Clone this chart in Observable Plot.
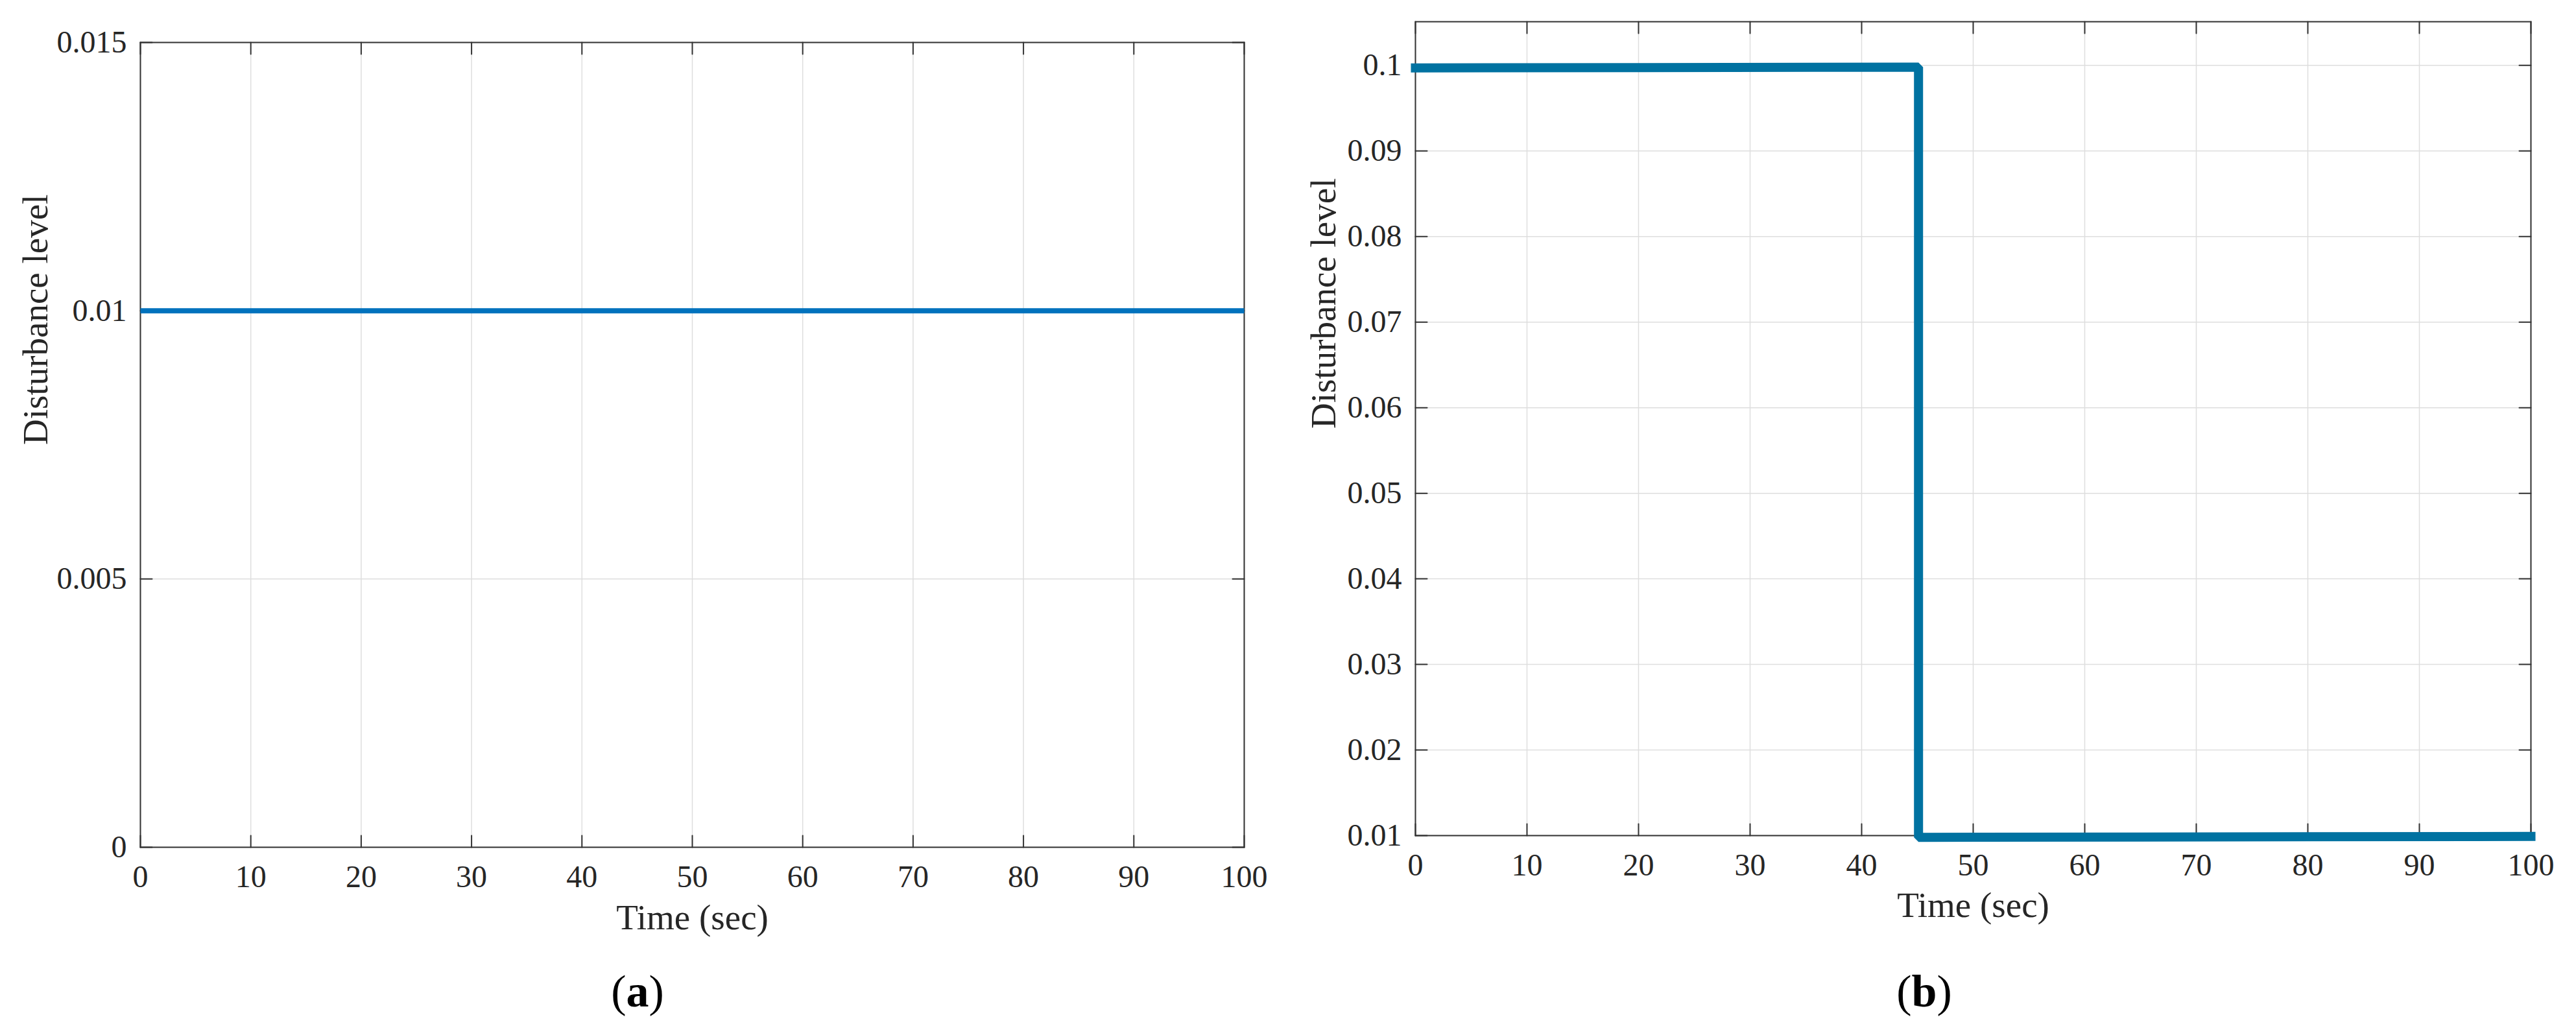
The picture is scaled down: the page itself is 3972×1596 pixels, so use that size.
<!DOCTYPE html>
<html><head><meta charset="utf-8">
<script src="https://cdn.jsdelivr.net/npm/d3@7"></script>
<script src="https://cdn.jsdelivr.net/npm/@observablehq/plot@0.6"></script>
<style>
body{margin:0;background:#fff;}
#fig{position:relative;width:3972px;height:1596px;overflow:hidden;background:#fff;font-family:"Liberation Serif","Times New Roman",serif;}
.panel{position:absolute;top:0;height:1480px;}
.panel svg text{font-family:"Liberation Serif","Times New Roman",serif !important;font-variant:normal !important;}
.cap{position:absolute;font-size:70px;line-height:70px;color:#000;transform:translateX(-50%);white-space:nowrap;}
</style></head><body>
<div id="fig">
  <div id="pa" class="panel" style="left:0;width:1986px"></div>
  <div id="pb" class="panel" style="left:1986px;width:1986px"></div>
  <div id="capa" class="cap" style="left:983px;top:1494px"></div>
  <div id="capb" class="cap" style="left:2967px;top:1494px"></div>
</div>
<script>
// ---- data ----
const xTicks = [0, 10, 20, 30, 40, 50, 60, 70, 80, 90, 100];
const xLabel = "Time (sec)";
const yLabel = "Disturbance level";
const captionLetters = ["a", "b"];

const timeA = [0, 100];
const levelA = [0.01, 0.01];
const yTicksA = [0, 0.005, 0.01, 0.015];

const timeB = [0, 45.1, 45.1, 100];
const levelB = [0.0997, 0.0998, 0.0098, 0.0099];
const yTicksB = [0.01, 0.02, 0.03, 0.04, 0.05, 0.06, 0.07, 0.08, 0.09, 0.1];

// ---- drawing ----
const FONT = "Liberation Serif";
const tickShape = {draw(ctx, l) { ctx.moveTo(0, 0); ctx.lineTo(0, -l); }};

function makePanel({time, level, yTicks, yDomain, color, lineWidth, linecap, margins, labelDx, labelDy}) {
  const [y0, y1] = yDomain;
  const tickStyle = {stroke: "#333333", strokeWidth: 2, length: 18, anchor: "start", shape: tickShape};
  const gridStyle = {stroke: "#dedede", strokeOpacity: 1, strokeWidth: 1.5};
  const rows = time.map((t, i) => ({t, v: level[i]}));
  return Plot.plot({
    width: 1986,
    height: 1480,
    ...margins,
    x: {domain: [0, 100]},
    y: {domain: yDomain},
    style: {fontFamily: FONT, fontSize: "48px", color: "#262626", background: "white", overflow: "visible"},
    marks: [
      Plot.gridX(xTicks, gridStyle),
      Plot.gridY(yTicks, gridStyle),
      Plot.frame({stroke: "#333333", strokeWidth: 2}),
      Plot.vector(xTicks, {x: d => d, y: () => y0, rotate: 0, ...tickStyle}),
      Plot.vector(xTicks, {x: d => d, y: () => y1, rotate: 180, ...tickStyle}),
      Plot.vector(yTicks, {x: () => 0, y: d => d, rotate: 90, ...tickStyle}),
      Plot.vector(yTicks, {x: () => 100, y: d => d, rotate: -90, ...tickStyle}),
      Plot.axisX(xTicks, {tickSize: 0, tickPadding: 27, label: null, tickFormat: d => String(d), fontSize: 48, fontFamily: FONT, fontVariant: "normal"}),
      Plot.axisY(yTicks, {tickSize: 0, tickPadding: 21, label: null, tickFormat: d => String(d), fontSize: 48, fontFamily: FONT, fontVariant: "normal"}),
      Plot.line(rows, {x: "t", y: "v", stroke: color, strokeWidth: lineWidth, strokeLinecap: linecap, strokeLinejoin: "miter"}),
      Plot.text([xLabel], {text: d => d, frameAnchor: "bottom", lineAnchor: "bottom", dy: labelDy, fontSize: 55, fontFamily: FONT}),
      Plot.text([yLabel], {text: d => d, frameAnchor: "left", lineAnchor: "bottom", rotate: -90, dx: labelDx, fontSize: 55, fontFamily: FONT})
    ]
  });
}

document.getElementById("pa").append(makePanel({
  time: timeA, level: levelA, yTicks: yTicksA, yDomain: [0, 0.015],
  color: "#0072bd", lineWidth: 8, linecap: "butt",
  margins: {marginLeft: 216, marginRight: 68, marginTop: 65, marginBottom: 174},
  labelDx: -144, labelDy: 126
}));

document.getElementById("pb").append(makePanel({
  time: timeB, level: levelB, yTicks: yTicksB, yDomain: [0.01, 0.1051],
  color: "#0072a1", lineWidth: 14, linecap: "square",
  margins: {marginLeft: 196, marginRight: 70, marginTop: 33, marginBottom: 192},
  labelDx: -124, labelDy: 125
}));

function caption(el, letter) {
  el.append("(");
  const b = document.createElement("b");
  b.textContent = letter;
  el.append(b);
  el.append(")");
}
caption(document.getElementById("capa"), captionLetters[0]);
caption(document.getElementById("capb"), captionLetters[1]);
</script>
</body></html>
